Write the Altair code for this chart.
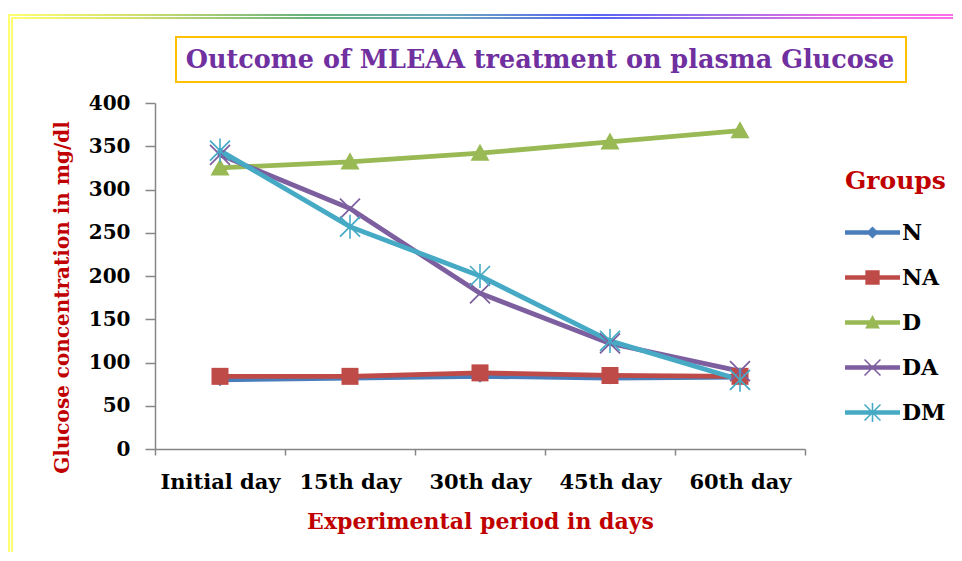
import altair as alt
import pandas as pd

# ---- data ----
days = ["Initial day", "15th day", "30th day", "45th day", "60th day"]
groups = ["N", "NA", "D", "DA", "DM"]
N = [80, 82, 84, 82, 83]
NA = [84, 84, 88, 85, 84]
D = [325, 332, 342, 355, 368]
DA = [340, 278, 180, 122, 90]
DM = [345, 257, 200, 125, 80]
colors = ["#4A7EBB", "#BE4B48", "#98B954", "#7D5FA0", "#46AAC5"]
y_ticks = [0, 50, 100, 150, 200, 250, 300, 350, 400]
title_text = "Outcome of MLEAA treatment on plasma Glucose"

series = {"N": N, "NA": NA, "D": D, "DA": DA, "DM": DM}
rows = []
for g in groups:
    for d, v in zip(days, series[g]):
        rows.append({"group": g, "day": d, "value": v})
df = pd.DataFrame(rows)

# ---- marker shapes (custom SVG paths) ----
def poly(pts, s=1.0):
    return "M" + "L".join(f"{x * s:.3f},{y * s:.3f}" for x, y in pts) + "Z"

def xbars(h):
    return [[(-1 + h, -1 - h), (1 + h, 1 - h), (1 - h, 1 + h), (-1 - h, -1 + h)],
            [(1 - h, -1 - h), (1 + h, -1 + h), (-1 + h, 1 + h), (-1 - h, 1 - h)]]

def vbar(h):
    return [(-h, -1.2), (h, -1.2), (h, 1.2), (-h, 1.2)]

DIAMOND = [(0, -1), (1, 0), (0, 1), (-1, 0)]
SQUARE = [(-1, -1), (1, -1), (1, 1), (-1, 1)]
TRI = [(0, -1), (1, 0.8), (-1, 0.8)]

plot_shapes = [
    poly(DIAMOND, 0.65),
    poly(SQUARE, 0.85),
    poly(TRI, 0.95),
    "".join(poly(b, 1.0) for b in xbars(0.06)),
    "".join(poly(b, 1.0) for b in xbars(0.06)) + poly(vbar(0.08), 1.0),
]

line_bar = poly([(-1, -0.08), (1, -0.08), (1, 0.08), (-1, 0.08)])
legend_shapes = [
    line_bar + poly(DIAMOND, 0.22),
    line_bar + poly(SQUARE, 0.26),
    line_bar + poly(TRI, 0.27),
    line_bar + "".join(poly(b, 0.29) for b in xbars(0.07)),
    line_bar + "".join(poly(b, 0.29) for b in xbars(0.07)) + poly(vbar(0.1), 0.29),
]

FONT = "DejaVu Serif"
RED = "#C00000"

x_enc = alt.X(
    "day:N",
    sort=days,
    scale=alt.Scale(type="band", domain=days, paddingInner=0, paddingOuter=0),
    axis=alt.Axis(
        title="Experimental period in days",
        labelAngle=0,
        tickBand="extent",
        titleX=325,
        titleY=72,
        titleBaseline="middle",
        titleAlign="center",
    ),
)
y_enc = alt.Y(
    "value:Q",
    scale=alt.Scale(domain=[0, 400], nice=False),
    axis=alt.Axis(
        title="Glucose  concentration  in mg/dl",
        values=y_ticks,
        tickSize=10,
        labelPadding=15,
        titleX=-93,
        titleY=194,
        titleAngle=270,
        titleBaseline="middle",
        titleAlign="center",
        titleFontSize=20,
    ),
)

base = alt.Chart(df)

lines = base.mark_line(strokeWidth=4.8, strokeCap="round", strokeJoin="round").encode(
    x=x_enc,
    y=y_enc,
    color=alt.Color("group:N", scale=alt.Scale(domain=groups, range=colors), legend=None),
)

points = base.mark_point(filled=True, size=400, opacity=1).encode(
    x=x_enc,
    y=y_enc,
    color=alt.Color("group:N", scale=alt.Scale(domain=groups, range=colors), legend=None),
    shape=alt.Shape("group:N", scale=alt.Scale(domain=groups, range=plot_shapes), legend=None),
)

legend_props = dict(
    title="Groups", orient="none", legendX=690, legendY=66,
    titleFont=FONT, titleFontSize=25, titleFontWeight="bold", titleColor=RED,
    titlePadding=11, labelFont=FONT, labelFontSize=22, labelFontWeight="bold",
    labelColor="black", labelOffset=2, symbolSize=3025, rowPadding=6,
    symbolStrokeWidth=0, padding=0, symbolOpacity=1,
)
legend_layer = base.transform_filter("false").mark_point(filled=True, size=3025, opacity=1).encode(
    x=x_enc,
    y=y_enc,
    color=alt.Color("group:N", scale=alt.Scale(domain=groups, range=colors), legend=alt.Legend(**legend_props)),
    shape=alt.Shape("group:N", scale=alt.Scale(domain=groups, range=legend_shapes), legend=alt.Legend(**legend_props)),
)

tdf = pd.DataFrame({"t": [title_text]})
title_box = alt.Chart(tdf).mark_rect(fillOpacity=0, stroke="#FFC000", strokeWidth=2).encode(
    x=alt.value(21), x2=alt.value(751), y=alt.value(-66), y2=alt.value(-21)
)
title_mark = alt.Chart(tdf).mark_text(
    font=FONT, fontSize=25.5, fontWeight="bold", color="#7030A0", align="center", baseline="middle"
).encode(text="t:N", x=alt.value(385), y=alt.value(-43))

grad = {
    "gradient": "linear", "x1": 0, "x2": 1, "y1": 0, "y2": 0,
    "stops": [
        {"offset": 0.0, "color": "#FFFF40"},
        {"offset": 0.12, "color": "#C8D840"},
        {"offset": 0.3, "color": "#3A9A50"},
        {"offset": 0.45, "color": "#3A8AA8"},
        {"offset": 0.6, "color": "#2030F0"},
        {"offset": 0.72, "color": "#8040E0"},
        {"offset": 0.85, "color": "#E040D8"},
        {"offset": 1.0, "color": "#FF40E0"},
    ],
}
frame1 = alt.Chart(tdf).mark_rect(fillOpacity=0, stroke=grad, strokeWidth=1.5).encode(
    x=alt.value(-146), x2=alt.value(830), y=alt.value(-88), y2=alt.value(520)
)
frame2 = alt.Chart(tdf).mark_rect(fillOpacity=0, stroke=grad, strokeWidth=1.5).encode(
    x=alt.value(-143), x2=alt.value(833), y=alt.value(-85), y2=alt.value(523)
)

chart = alt.layer(frame1, frame2, title_box, title_mark, lines, points, legend_layer).resolve_scale(
    color="independent", shape="independent"
).properties(
    width=650, height=346,
    autosize=alt.AutoSizeParams(type="none"),
    padding={"left": 147, "top": 95, "right": 148, "bottom": 103},
).configure_view(strokeWidth=0).configure_axis(
    domainColor="#868686", domainWidth=1.5, tickColor="#868686", tickWidth=1.5,
    grid=False, labelFont=FONT, labelFontSize=20, labelFontWeight="bold", labelColor="black",
    titleFont=FONT, titleFontSize=22, titleFontWeight="bold", titleColor=RED,
).configure_axisX(tickSize=6, labelPadding=16, labelFontSize=21)

chart.save("out.html", embed_options={"renderer": "svg", "actions": False})
